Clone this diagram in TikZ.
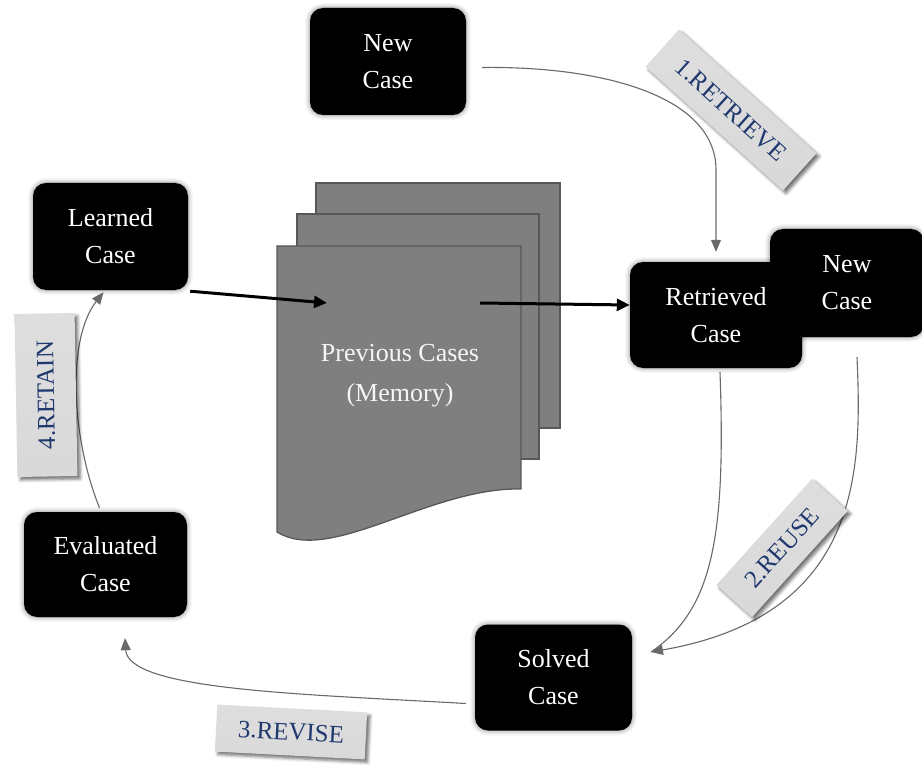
\documentclass[tikz,border=0pt]{standalone}
\usepackage{fontspec}
\setmainfont{Liberation Serif}
\usetikzlibrary{arrows.meta,shadows.blur}
\definecolor{labelblue}{RGB}{31,56,110}
\definecolor{sheetfill}{RGB}{127,127,127}
\definecolor{sheetedge}{RGB}{88,88,88}
\definecolor{linkgray}{RGB}{105,105,105}

\begin{document}
\begin{tikzpicture}[x=1pt,y=-1pt,
  casebox/.style={fill=black, rounded corners=13pt, text=white, align=center,
    font=\fontsize{26}{37}\selectfont, inner sep=0pt,
    blur shadow={shadow xshift=0pt, shadow yshift=0pt, shadow blur radius=5pt, shadow opacity=50}},
  steptag/.style={top color=gray!26, middle color=gray!6, bottom color=gray!30, text=labelblue, inner sep=0pt,
    font=\fontsize{25}{30}\selectfont,
    blur shadow={shadow xshift=3pt, shadow yshift=-3pt, shadow blur radius=3pt, shadow opacity=55}},
  sheet/.style={fill=sheetfill, draw=sheetedge, line width=1.3pt},
  flow/.style={draw=linkgray, line width=1.1pt, -{Triangle[length=12pt,width=10pt]}},
  plainflow/.style={draw=linkgray, line width=1.1pt},
  boldflow/.style={draw=black, line width=3pt, -{Triangle[length=13pt,width=12pt]}}
]
\useasboundingbox (0,0) rectangle (922,765);

% stack of stored cases
\draw[sheet] (316,183) rectangle (560,428);
\draw[sheet] (297,214) rectangle (539,459);
\draw[sheet] (277,246) -- (521,246) -- (521,489)
  .. controls (430,487) and (330,565) .. (277,532) -- cycle;
\node[text=white!92!gray, align=center, font=\fontsize{26}{40}\selectfont] (memory) at (400,376) {Previous Cases\\(Memory)};
\coordinate (memin) at (327,303);
\coordinate (memout) at (480,303);

% case boxes
\node[casebox, minimum width=156pt, minimum height=107pt] (newtop) at (388,61.5) {New\\Case};
\node[casebox, minimum width=155pt, minimum height=107pt] (learned) at (110.5,236.5) {Learned\\Case};
\node[casebox, minimum width=163pt, minimum height=105pt] (evaluated) at (105.5,564.5) {Evaluated\\Case};
\node[casebox, minimum width=157pt, minimum height=106pt] (solved) at (553.5,677.5) {Solved\\Case};
\node[casebox, minimum width=154pt, minimum height=108pt] (newright) at (847,283) {New\\Case};
\node[casebox, minimum width=172pt, minimum height=106pt] (retrieved) at (716,315) {Retrieved\\Case};

% memory in and out
\draw[boldflow] ([shift={(2,1)}]learned.south east) -- (memin);
\draw[boldflow] (memout) -- ([yshift=10pt]retrieved.west);

% cycle connectors
\draw[flow] ([shift={(16,6)}]newtop.east) .. controls (600,66) and (716,95) .. (716,170)
  -- ([yshift=10pt]retrieved.north);
\coordinate (meet) at (651,652);
\draw[plainflow] ([shift={(4,4)}]retrieved.south) .. controls (726,540) and (712,610) .. (meet);
\draw[flow] ([shift={(10,20)}]newright.south) .. controls (862,470) and (862,615) .. (meet);
\draw[flow] ([shift={(-9,26)}]solved.west) .. controls (300,694) and (128,690) .. ([shift={(19.5,21)}]evaluated.south);
\draw[flow] ([shift={(-6,-4)}]evaluated.north) .. controls (72,440) and (66,340) .. ([shift={(-7,2)}]learned.south);

% step tags
\node[steptag, minimum width=185pt, minimum height=50pt, rotate=-42] (retrieve) at (731,110) {1.RETRIEVE};
\node[steptag, minimum width=143pt, minimum height=48pt, rotate=48] (reuse) at (782,548) {2.REUSE};
\node[steptag, minimum width=150pt, minimum height=47pt, rotate=-3] (revise) at (291,732) {3.REVISE};
\node[steptag, minimum width=163pt, minimum height=60pt, rotate=91] (retain) at (46,395) {4.RETAIN};
\end{tikzpicture}
\end{document}
